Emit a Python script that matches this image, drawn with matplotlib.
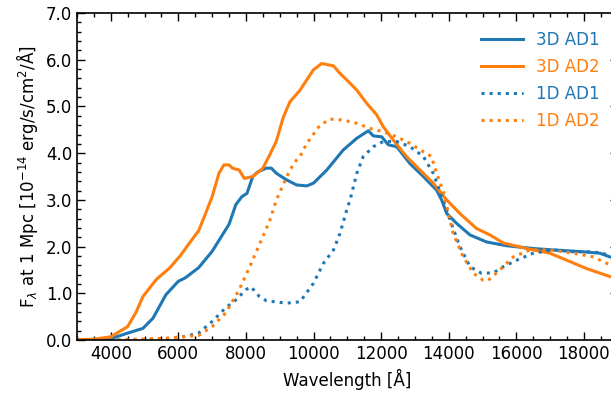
import matplotlib
matplotlib.use('Agg')
import matplotlib.pyplot as plt
from matplotlib.ticker import MultipleLocator, FormatStrFormatter

# ── data (wavelength in Å, flux in 1e-14 erg/s/cm2/Å) ──
wl_3d_ad1 = [3000, 3500, 4000, 4500, 4950, 5250, 5630, 6000, 6200, 6600, 7000, 7500, 7700,
             7880, 8030, 8200, 8350, 8600, 8750, 8900, 9200, 9500, 9800, 10000, 10390,
             10880, 11280, 11620, 11770, 12020, 12210, 12460, 12850, 13250, 13640, 13790,
             13940, 14230, 14630, 15120, 15710, 16500, 17090, 17980, 18470, 18770, 19000]
fl_3d_ad1 = [0.01, 0.01, 0.03, 0.15, 0.25, 0.47, 0.97, 1.26, 1.33, 1.55, 1.90, 2.48, 2.90,
             3.07, 3.14, 3.50, 3.60, 3.68, 3.68, 3.57, 3.43, 3.32, 3.30, 3.36, 3.64,
             4.07, 4.32, 4.48, 4.37, 4.35, 4.18, 4.14, 3.78, 3.50, 3.21, 3.00,
             2.71, 2.50, 2.25, 2.10, 2.02, 1.96, 1.93, 1.89, 1.86, 1.78, 1.75]

wl_3d_ad2 = [3000, 3500, 4000, 4500, 4750, 4950, 5350, 5750, 6050, 6300, 6600, 6800, 7000,
             7200, 7350, 7500, 7600, 7800, 7950, 8200, 8500, 8700, 8900, 9100, 9300, 9600,
             9990, 10240, 10590, 10780, 10980, 11280, 11570, 11870, 12060, 12360, 12750,
             13150, 13540, 13940, 14330, 14820, 15220, 15610, 16300, 16990, 17490, 18080,
             18770, 19000]
fl_3d_ad2 = [0.01, 0.02, 0.07, 0.29, 0.60, 0.93, 1.30, 1.55, 1.80, 2.05, 2.34, 2.70, 3.07,
             3.57, 3.75, 3.75, 3.68, 3.64, 3.46, 3.50, 3.68, 3.96, 4.26, 4.76, 5.10, 5.35,
             5.78, 5.92, 5.87, 5.71, 5.57, 5.35, 5.07, 4.82, 4.57, 4.28, 3.93,
             3.64, 3.36, 3.00, 2.71, 2.39, 2.25, 2.08, 1.96, 1.86, 1.71, 1.53,
             1.36, 1.32]

wl_1d_ad1 = [3000, 4650, 5630, 6200, 6600, 7000, 7400, 7700, 8000, 8150, 8400, 8610, 9200,
             9600, 9990, 10290, 10590, 10780, 10980, 11080, 11280, 11470, 11770, 12060,
             12460, 12850, 13250, 13540, 13690, 14040, 14330, 14630, 14970, 15320, 15610,
             16010, 16500, 17090, 17690, 18280, 18770, 19000]
fl_1d_ad1 = [0.0, 0.0, 0.03, 0.08, 0.15, 0.40, 0.69, 0.86, 1.08, 1.14, 0.93, 0.84, 0.79,
             0.82, 1.21, 1.64, 1.93, 2.28, 2.78, 3.00, 3.57, 3.93, 4.14, 4.25,
             4.25, 4.14, 3.93, 3.57, 3.28, 2.57, 2.00, 1.57, 1.43, 1.44, 1.57,
             1.71, 1.86, 1.93, 1.89, 1.89, 1.82, 1.80]

wl_1d_ad2 = [3000, 4000, 5630, 6600, 7000, 7400, 7800, 8100, 8400, 8700, 8900, 9300, 9500,
             9600, 9800, 10190, 10490, 10880, 11280, 11670, 12060, 12460, 12850, 13250,
             13490, 13640, 13840, 14130, 14430, 14730, 15020, 15170, 15510, 15910, 16400,
             17000, 17690, 18280, 18770, 19000]
fl_1d_ad2 = [0.0, 0.0, 0.04, 0.10, 0.29, 0.58, 1.08, 1.55, 2.05, 2.55, 3.00, 3.64, 3.86,
             3.93, 4.21, 4.60, 4.73, 4.71, 4.64, 4.53, 4.46, 4.35, 4.21, 4.03,
             3.93, 3.57, 3.18, 2.28, 1.78, 1.43, 1.28, 1.28, 1.50, 1.78, 1.93,
             1.93, 1.86, 1.78, 1.61, 1.55]

BLUE = '#1f77b4'
ORANGE = '#ff7f0e'

plt.rcParams['font.family'] = 'DejaVu Sans'
plt.rcParams['mathtext.fontset'] = 'dejavusans'

fig = plt.figure(figsize=(6.11, 3.95), dpi=100)
ax = fig.add_axes([0.126, 0.139, 0.885, 0.828])

ax.plot(wl_3d_ad1, fl_3d_ad1, color=BLUE, lw=2.2, label='3D AD1')
ax.plot(wl_3d_ad2, fl_3d_ad2, color=ORANGE, lw=2.2, label='3D AD2')
ax.plot(wl_1d_ad1, fl_1d_ad1, color=BLUE, lw=2.2, ls=':', label='1D AD1')
ax.plot(wl_1d_ad2, fl_1d_ad2, color=ORANGE, lw=2.2, ls=':', label='1D AD2')

ax.set_xlim(3000, 19000)
ax.set_ylim(0, 7.0)
ax.xaxis.set_major_locator(MultipleLocator(2000))
ax.xaxis.set_minor_locator(MultipleLocator(500))
ax.yaxis.set_major_locator(MultipleLocator(1.0))
ax.yaxis.set_minor_locator(MultipleLocator(0.2))
ax.yaxis.set_major_formatter(FormatStrFormatter('%.1f'))
ax.tick_params(which='both', direction='in', top=True, right=True, labelsize=12)
ax.tick_params(which='major', length=6, width=1)
ax.tick_params(which='minor', length=3, width=1)
for s in ax.spines.values():
    s.set_linewidth(1.2)

ax.set_xlabel('Wavelength [Å]', fontsize=12)
ax.set_ylabel(r'F$_\lambda$ at 1 Mpc [10$^{-14}$ erg/s/cm$^2$/Å]', fontsize=12)

leg = ax.legend(loc='upper right', bbox_to_anchor=(1.006, 0.96),
                bbox_transform=fig.transFigure, frameon=False, fontsize=12,
                handlelength=2.5, handletextpad=0.8, labelspacing=0.55)
for txt, line in zip(leg.get_texts(), leg.get_lines()):
    txt.set_color(line.get_color())

fig.savefig('out.png', dpi=100)
